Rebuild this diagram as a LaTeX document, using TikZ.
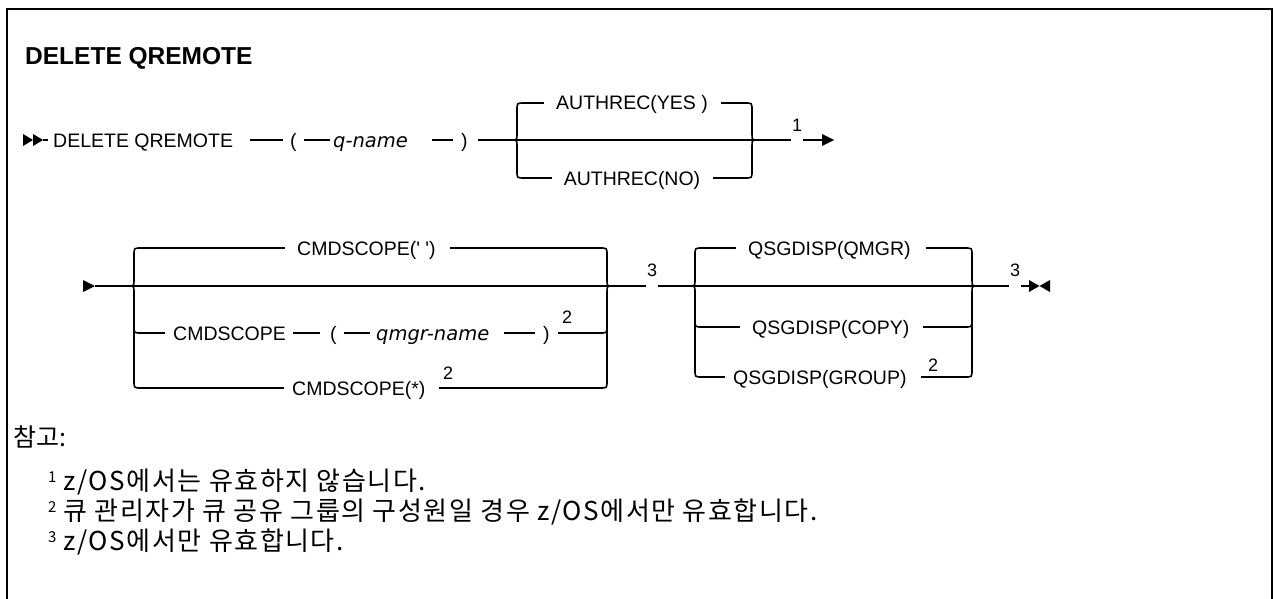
\documentclass[tikz,border=0pt]{standalone}
\usepackage{fontspec}
\setmainfont{Liberation Sans}
\newfontfamily\kr{Noto Sans CJK KR}
\newfontfamily\krw{Noto Sans CJK KR}[LetterSpace=6]
\newfontfamily\dgi{DejaVu Sans Oblique}
\newcommand\dgf{\fontsize{19.5}{23}\selectfont}
\newcommand\dgn{\fontsize{18}{21}\selectfont}
\newcommand\notemark[1]{{\kr\fontsize{15}{15}\selectfont\raisebox{7.5pt}{#1}}\hspace{7pt}}
% left brace: x of bar, top y, main y, bottom y
\newcommand\lbr[4]{%
  \draw[ln] ({#1-6},#3) .. controls (#1,#3) .. (#1,{#3-6}) -- (#1,{#2+7}) .. controls (#1,#2) .. ({#1+7},#2);
  \draw[ln] ({#1-6},#3) .. controls (#1,#3) .. (#1,{#3+6}) -- (#1,{#4-7}) .. controls (#1,#4) .. ({#1+7},#4);}
\newcommand\rbr[4]{%
  \draw[ln] ({#1+6},#3) .. controls (#1,#3) .. (#1,{#3-6}) -- (#1,{#2+7}) .. controls (#1,#2) .. ({#1-7},#2);
  \draw[ln] ({#1+6},#3) .. controls (#1,#3) .. (#1,{#3+6}) -- (#1,{#4-7}) .. controls (#1,#4) .. ({#1-7},#4);}
% intermediate branch: x of bar, y, direction (+1 right, -1 left)
\newcommand\mbr[3]{%
  \draw[ln] (#1,{#2-7}) .. controls (#1,#2) .. ({#1+7*#3},#2);}
\begin{document}
\begin{tikzpicture}[x=1pt,y=-1pt,
  ln/.style={line width=1.6pt},
  lbl/.style={inner sep=0pt, text height=16pt, text depth=2pt, anchor=west, font=\dgf},
  ital/.style={lbl, font=\dgi\dgf},
  num/.style={inner sep=0pt, anchor=base, font=\dgn},
  frame/.style={line width=2.6pt},
  note/.style={anchor=base west, inner sep=0pt, font=\krw\fontsize{26}{30}\selectfont}
]
\useasboundingbox (0,0) rectangle (1274,599);
% frame
\draw[frame] (7,606) -- (7,9) -- (1272,9) -- (1272,606);
% title
\node[anchor=base west, inner sep=0pt, font=\bfseries\fontsize{24.5}{29}\selectfont] (title) at (25,65) {DELETE QREMOTE};

% ---------- row 1 ----------
\fill (23,134) -- (33,140) -- (23,146) -- cycle;
\fill (33,134) -- (43,140) -- (33,146) -- cycle;
\coordinate (r1s) at (43,140);
\node[lbl] (dq) at (53,140) {DELETE QREMOTE};
\node[lbl] (lp1) at (290,140) {(};
\node[ital] (qn) at (333,140) {q-name};
\node[lbl] (rp1) at (461,140) {)};
\node[lbl,anchor=center] (ay) at (632,103) {AUTHREC(YES )};
\node[lbl,anchor=center] (an) at (632,178) {AUTHREC(NO)};
\node[num] (n1) at (797,131.5) {1};
\coordinate (r1a) at (791,140);
\coordinate (r1b) at (803,140);
\coordinate (r1e) at (822,140);
\draw[ln] (r1s) -- ([xshift=-5pt]dq.west);
\draw[ln,shorten <=17pt,shorten >=7pt] (dq.east) -- (lp1.west);
\draw[ln,shorten <=7pt,shorten >=3pt] (lp1.east) -- (qn.west);
\draw[ln,shorten <=24pt,shorten >=8pt] (qn.east) -- (rp1.west);
\draw[ln,shorten <=10pt] (rp1.east) -- (r1a);
\draw[ln] (r1b) -- (r1e);
\fill (822,134) -- (834,140) -- (822,146) -- cycle;
\lbr{517}{103}{140}{178}
\rbr{752}{103}{140}{178}
\coordinate (a1l) at (524,103); \coordinate (a1r) at (745,103);
\coordinate (a2l) at (524,178); \coordinate (a2r) at (745,178);
\draw[ln] (a1l) -- ([xshift=-12pt]ay.west);
\draw[ln] ([xshift=13pt]ay.east) -- (a1r);
\draw[ln] (a2l) -- ([xshift=-12pt]an.west);
\draw[ln] ([xshift=13pt]an.east) -- (a2r);

% ---------- row 2 ----------
\fill (83,280) -- (95,286) -- (83,292) -- cycle;
\coordinate (r2s) at (95,286);
\coordinate (r2g1) at (646,286);
\coordinate (r2g2) at (658,286);
\coordinate (r2g3) at (1009,286);
\coordinate (r2g4) at (1021,286);
\coordinate (r2e) at (1029,286);
\draw[ln] (r2s) -- (r2g1);
\draw[ln] (r2g2) -- (r2g3);
\draw[ln] (r2g4) -- (r2e);
\node[num] (n3a) at (652,276.5) {3};
\node[num] (n3b) at (1015,276.5) {3};
\fill (1029,280) -- (1039.5,286) -- (1029,292) -- cycle;
\fill (1050,280) -- (1039.5,286) -- (1050,292) -- cycle;

% CMDSCOPE group
\lbr{134}{248}{286}{388}
\mbr{134}{333}{1}
\rbr{607}{248}{286}{388}
\mbr{607}{333}{-1}
\node[lbl] (c1) at (297,248) {CMDSCOPE(\textquotesingle\ \textquotesingle)};
\node[lbl] (c2) at (173,333) {CMDSCOPE};
\node[lbl] (lp2) at (330,333) {(};
\node[ital] (qm) at (376,333) {qmgr-name};
\node[lbl] (rp2) at (543,333) {)};
\node[num] (n2a) at (567,323.5) {2};
\node[lbl] (c3) at (292,388) {CMDSCOPE(*)};
\node[num] (n2b) at (448,379.5) {2};
\coordinate (c1l) at (141,248); \coordinate (c1r) at (600,248);
\coordinate (c2l) at (141,333); \coordinate (c2r) at (600,333);
\coordinate (c3l) at (141,388); \coordinate (c3r) at (600,388);
\draw[ln] (c1l) -- ([xshift=-12pt]c1.west);
\draw[ln] ([xshift=14pt]c1.east) -- (c1r);
\draw[ln] (c2l) -- ([xshift=-8pt]c2.west);
\draw[ln,shorten <=7pt,shorten >=10pt] (c2.east) -- (lp2.west);
\draw[ln,shorten <=7pt,shorten >=6pt] (lp2.east) -- (qm.west);
\draw[ln,shorten <=15pt,shorten >=8pt] (qm.east) -- (rp2.west);
\draw[ln,shorten <=8pt] (rp2.east) -- (c2r);
\draw[ln] (c3l) -- ([xshift=-8pt]c3.west);
\draw[ln,shorten <=13pt] (c3.east) -- (c3r);

% QSGDISP group
\lbr{695}{248}{286}{377}
\mbr{695}{327}{1}
\rbr{972}{248}{286}{377}
\mbr{972}{327}{-1}
\node[lbl] (q1) at (748,248) {QSGDISP(QMGR)};
\node[lbl] (q2) at (752,327) {QSGDISP(COPY)};
\node[lbl] (q3) at (733,377) {QSGDISP(GROUP)};
\node[num] (n2c) at (933,371.5) {2};
\coordinate (q1l) at (702,248); \coordinate (q1r) at (965,248);
\coordinate (q2l) at (702,327); \coordinate (q2r) at (965,327);
\coordinate (q3l) at (702,377); \coordinate (q3r) at (965,377);
\draw[ln] (q1l) -- ([xshift=-12pt]q1.west);
\draw[ln] ([xshift=15pt]q1.east) -- (q1r);
\draw[ln] (q2l) -- ([xshift=-12pt]q2.west);
\draw[ln] ([xshift=13pt]q2.east) -- (q2r);
\draw[ln] (q3l) -- ([xshift=-8pt]q3.west);
\draw[ln] ([xshift=14pt]q3.east) -- (q3r);

% ---------- notes ----------
\node[anchor=base west, inner sep=0pt, font=\kr\fontsize{25}{30}\selectfont] (notes) at (13,446) {참고:};
\node[note] (f1) at (48,490) {\notemark{1}z/OS에서는 유효하지 않습니다.};
\node[note] (f2) at (48,520) {\notemark{2}큐 관리자가 큐 공유 그룹의 구성원일 경우 z/OS에서만 유효합니다.};
\node[note] (f3) at (48,550) {\notemark{3}z/OS에서만 유효합니다.};
\end{tikzpicture}
\end{document}
